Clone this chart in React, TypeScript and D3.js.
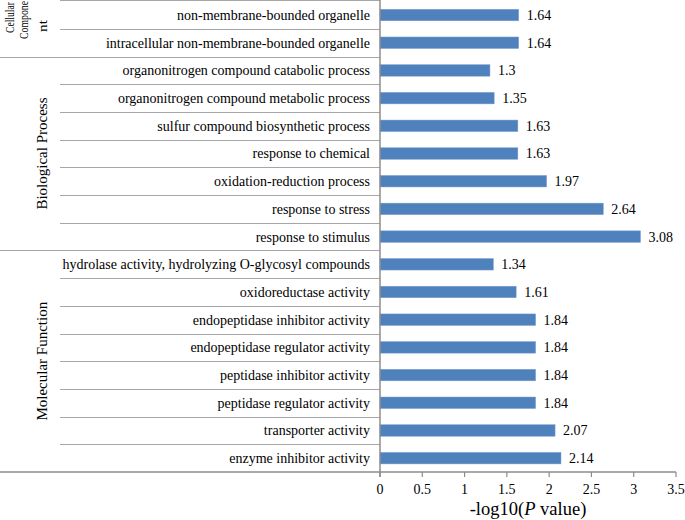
import React from "react";
import * as d3 from "d3";

const categories = [
  "non-membrane-bounded organelle",
  "intracellular non-membrane-bounded organelle",
  "organonitrogen compound catabolic process",
  "organonitrogen compound metabolic process",
  "sulfur compound biosynthetic process",
  "response to chemical",
  "oxidation-reduction process",
  "response to stress",
  "response to stimulus",
  "hydrolase activity, hydrolyzing O-glycosyl compounds",
  "oxidoreductase activity",
  "endopeptidase inhibitor activity",
  "endopeptidase regulator activity",
  "peptidase inhibitor activity",
  "peptidase regulator activity",
  "transporter activity",
  "enzyme inhibitor activity",
];
const values = [1.64, 1.64, 1.3, 1.35, 1.63, 1.63, 1.97, 2.64, 3.08, 1.34, 1.61, 1.84, 1.84, 1.84, 1.84, 2.07, 2.14];
const valueLabels = ["1.64", "1.64", "1.3", "1.35", "1.63", "1.63", "1.97", "2.64", "3.08", "1.34", "1.61", "1.84", "1.84", "1.84", "1.84", "2.07", "2.14"];
const groupNames = ["Cellular Component", "Biological Process", "Molecular Function"];
const groupSizes = [2, 7, 8];
const xTicks = [0, 0.5, 1, 1.5, 2, 2.5, 3, 3.5];

const W = 685, H = 520;
const FONT = '"Liberation Serif", "DejaVu Serif", serif';

export default function App() {
  const x = d3.scaleLinear().domain([0, 3.5]).range([380, 676]);
  const y = d3.scaleBand<number>().domain(d3.range(categories.length)).range([1.2, 472]).paddingInner(0).paddingOuter(0);
  const bw = y.bandwidth();
  const barH = 11.5;
  const groupStarts: number[] = [];
  let acc = 0;
  groupSizes.forEach((s) => { groupStarts.push(acc); acc += s; });
  const lineColor = "#a6a6a6";

  return (
    <svg width={W} height={H} style={{ position: "absolute", left: 0, top: 0, background: "#fff", fontFamily: FONT }}>
      {categories.map((_, i) => {
        if (i === 0) return null;
        const isGroupStart = groupStarts.includes(i);
        const yy = Math.round(y(i)!) + 0.5;
        return <line key={"r" + i} x1={isGroupStart ? 0 : 60} x2={380} y1={yy} y2={yy} stroke={lineColor} strokeWidth={1.2} />;
      })}
      <line x1={60} x2={380} y1={0.5} y2={0.5} stroke={lineColor} strokeWidth={1} />
      {values.map((v, i) => (
        <rect key={"b" + i} x={x(0)} y={y(i)! + bw / 2 - barH / 2} width={x(v) - x(0)} height={barH} fill="#4f81bd" stroke="#7a9fcf" strokeWidth={0.5} />
      ))}
      {values.map((v, i) => (
        <text key={"v" + i} x={x(v) + 8} y={y(i)! + bw / 2} dy="0.35em" fontSize={14} fill="#000">{valueLabels[i]}</text>
      ))}
      {categories.map((c, i) => (
        <text key={"c" + i} x={370} y={y(i)! + bw / 2} dy="0.35em" fontSize={14} textAnchor="end" fill="#000">{c}</text>
      ))}
      <line x1={x(0)} x2={x(0)} y1={0} y2={477} stroke="#8c8c8c" strokeWidth={1.5} />
      <line x1={0} x2={x(3.5)} y1={472} y2={472} stroke="#8c8c8c" strokeWidth={1.5} />
      {xTicks.map((t) => (
        <g key={"t" + t}>
          <line x1={x(t)} x2={x(t)} y1={472} y2={477} stroke="#8c8c8c" strokeWidth={1.2} />
          <text x={x(t)} y={494} fontSize={14} textAnchor="middle" fill="#000">{t}</text>
        </g>
      ))}
      <text x={528} y={515} fontSize={18.5} textAnchor="middle" fill="#000">
        -log10(<tspan fontStyle="italic">P</tspan> value)
      </text>
      <g fontSize={13} fill="#000">
        <text transform={`translate(14,33) rotate(-90)`} textAnchor="start" textLength={31} lengthAdjust="spacingAndGlyphs">Cellular</text>
        <text transform={`translate(28,39) rotate(-90)`} textAnchor="start" textLength={38} lengthAdjust="spacingAndGlyphs">Compone</text>
        <text transform={`translate(47,32) rotate(-90)`} textAnchor="start" textLength={12} lengthAdjust="spacingAndGlyphs">nt</text>
        {groupNames.slice(1).map((g, k) => {
          const gi = k + 1;
          const s = groupStarts[gi];
          const e = s + groupSizes[gi];
          const cy = (y(s)! + y(e - 1)! + bw) / 2;
          return <text key={g} transform={`translate(47,${cy}) rotate(-90)`} textAnchor="middle" fontSize={15}>{g}</text>;
        })}
      </g>
    </svg>
  );
}
